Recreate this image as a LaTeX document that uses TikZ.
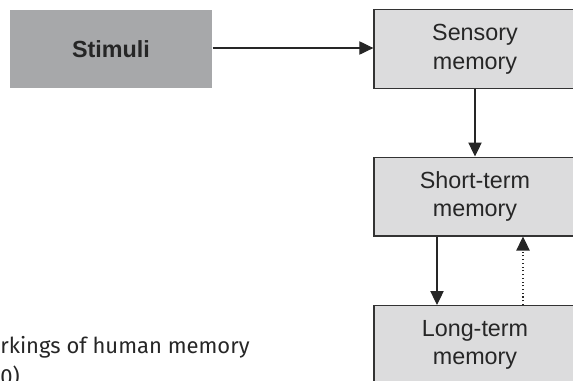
\documentclass[tikz,border=0pt]{standalone}
\usepackage{fontspec}
\setmainfont{Liberation Sans}
\newfontfamily\capfont{Fira Sans}
\usetikzlibrary{arrows.meta}
\definecolor{stimgray}{HTML}{A7A8AA}
\definecolor{boxgray}{HTML}{DCDCDD}
\definecolor{edgegray}{HTML}{333333}
\begin{document}
\begin{tikzpicture}[x=0.75pt,y=-0.75pt,
  memorybox/.style={draw=edgegray,line width=1pt,fill=boxgray,minimum width=151.5pt,minimum height=59pt,
    align=center,font=\fontsize{17.5pt}{21.5pt}\selectfont,text=black!85,inner sep=0pt},
  stimbox/.style={fill=stimgray,minimum width=152pt,minimum height=58.5pt,font=\bfseries\fontsize{17.5pt}{21pt}\selectfont,text=black!85,inner sep=0pt},
  arr/.style={draw=black!85,line width=0.8pt,-{Triangle[length=10.5pt,width=10pt]}},
  dotarr/.style={arr,dotted},
  captxt/.style={font=\capfont\fontsize{16.5pt}{20pt}\selectfont,anchor=base west,inner sep=0pt,text=black!85}]
\useasboundingbox (0,0) rectangle (573,380);
\clip (0,0) rectangle (573,380);
\node[stimbox] (stim) at (111,49) {Stimuli};
\node[memorybox] (sens) at (475,49) {Sensory\\memory};
\node[memorybox] (short) at (475,196.5) {Short-term\\memory};
\node[memorybox] (long) at (475,345) {Long-term\\memory};
\draw[arr] (stim.east |- 0,48) -- (sens.west |- 0,48);
\draw[arr] (sens.south) -- (short.north);
\draw[arr] (short.south -| 437,0) -- (long.north -| 437,0);
\draw[dotarr] (long.north -| 523,0) -- (short.south -| 523,0);
\node[captxt] (cap1) at (0,353) {rkings of human memory};
\node[captxt] (cap2) at (0,384) {0)};
\end{tikzpicture}
\end{document}
